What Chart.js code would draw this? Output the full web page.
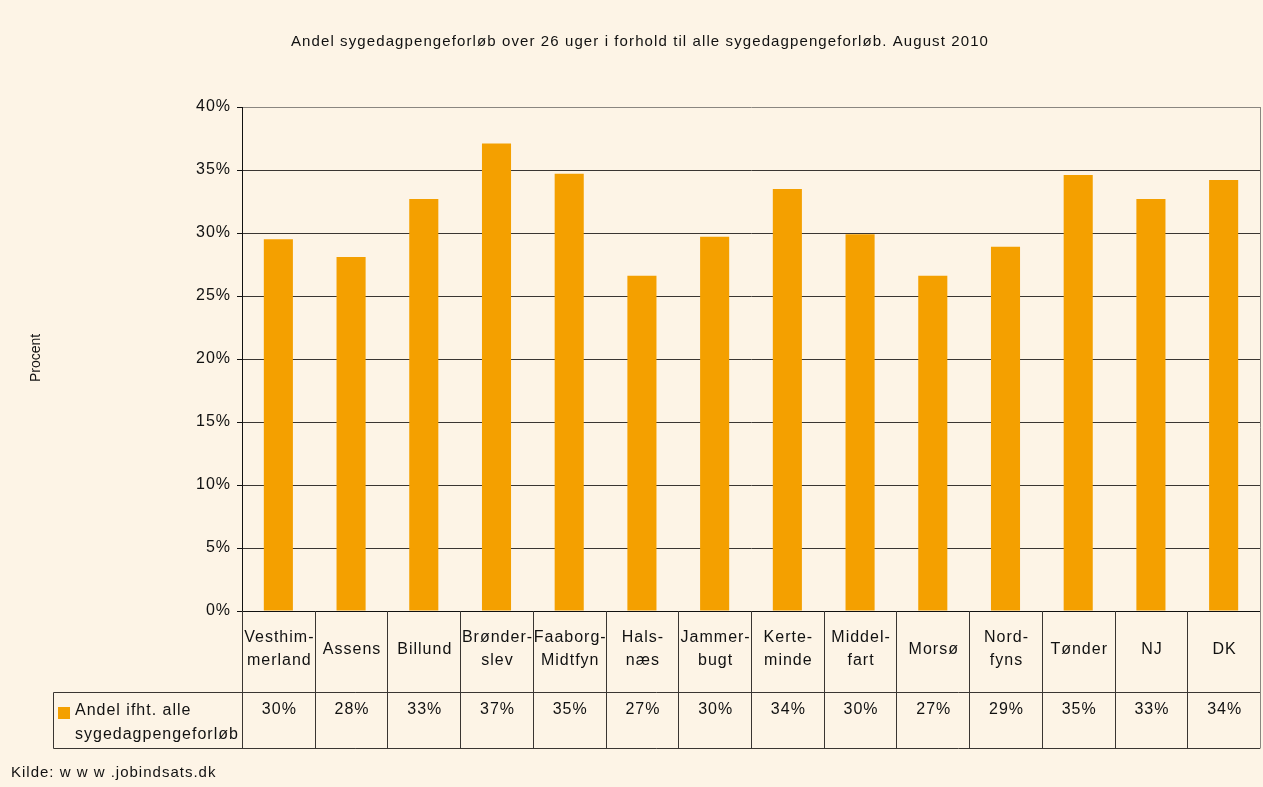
<!DOCTYPE html>
<html>
<head>
<meta charset="utf-8">
<script src="https://cdn.jsdelivr.net/npm/chart.js@4/dist/chart.umd.min.js"></script>
<style>
  html, body { margin: 0; padding: 0; background: #FDF4E6; }
  #wrap { width: 1263px; height: 787px; position: relative; }
</style>
</head>
<body>
<div id="wrap"><canvas id="chart" width="1263" height="787"></canvas></div>
<script>
// data
const categories = ['Vesthimmerland', 'Assens', 'Billund', 'Brønderslev', 'Faaborg-Midtfyn', 'Halsnæs', 'Jammerbugt',
  'Kerteminde', 'Middelfart', 'Morsø', 'Nordfyns', 'Tønder', 'NJ', 'DK'];
const tableLabels = [['Vesthim-', 'merland'], ['Assens'], ['Billund'], ['Brønder-', 'slev'], ['Faaborg-', 'Midtfyn'],
  ['Hals-', 'næs'], ['Jammer-', 'bugt'], ['Kerte-', 'minde'], ['Middel-', 'fart'], ['Morsø'], ['Nord-', 'fyns'],
  ['Tønder'], ['NJ'], ['DK']];
const shareValues = [29.5, 28.1, 32.7, 37.1, 34.7, 26.6, 29.7, 33.5, 29.9, 26.6, 28.9, 34.6, 32.7, 34.2];
const yTicks = [0, 5, 10, 15, 20, 25, 30, 35, 40];

const seriesName = 'Andel ifht. alle sygedagpengeforløb';
const titleText = 'Andel sygedagpengeforløb over 26 uger i forhold til alle sygedagpengeforløb. August 2010';
const sourceText = 'Kilde: w w w .jobindsats.dk';

const barColor = '#F4A000';
const textColor = '#111';
const fontFam = '"Liberation Sans", Arial, sans-serif';

// title, axis title, data table and source line
const decorPlugin = {
  id: 'decor',
  beforeDraw(chart) {
    const ctx = chart.ctx;
    ctx.save();
    ctx.fillStyle = '#FDF4E6';
    ctx.fillRect(0, 0, chart.width, chart.height);
    ctx.restore();
    ctx.letterSpacing = '1px';
  },
  afterDraw(chart) {
    const ctx = chart.ctx;
    const area = chart.chartArea;
    const xs = chart.scales.x;
    const colW = (area.right - area.left) / categories.length;
    const rowTop = area.bottom;
    const rowMid = 692.5;
    const rowBot = 748.5;

    ctx.save();
    ctx.fillStyle = textColor;

    // title
    ctx.letterSpacing = '1.1px';
    ctx.font = '15px ' + fontFam;
    ctx.textAlign = 'center';
    ctx.textBaseline = 'middle';
    ctx.fillText(titleText, 640, 42);

    // y axis title
    ctx.save();
    ctx.translate(36, 358);
    ctx.rotate(-Math.PI / 2);
    ctx.letterSpacing = '0px';
    ctx.font = '14px ' + fontFam;
    ctx.fillText('Procent', 0, 0);
    ctx.restore();

    // plot frame right side in grey
    ctx.strokeStyle = '#8a8680';
    ctx.lineWidth = 1;
    ctx.beginPath();
    ctx.moveTo(area.right + 0.5, area.top);
    ctx.lineTo(area.right + 0.5, rowBot);
    ctx.stroke();

    // table lines
    ctx.strokeStyle = '#3a3632';
    ctx.beginPath();
    for (let i = 0; i < categories.length; i++) {
      const x = Math.round(area.left + i * colW) + 0.5;
      ctx.moveTo(x, rowTop);
      ctx.lineTo(x, rowBot);
    }
    ctx.moveTo(53.5, rowMid);
    ctx.lineTo(area.right, rowMid);
    ctx.moveTo(53.5, rowBot);
    ctx.lineTo(area.right, rowBot);
    ctx.moveTo(53.5, rowMid);
    ctx.lineTo(53.5, rowBot);
    ctx.stroke();

    // category names and values
    ctx.letterSpacing = '1px';
    ctx.font = '16px ' + fontFam;
    ctx.textAlign = 'center';
    ctx.textBaseline = 'middle';
    categories.forEach(function (c, i) {
      const cx = xs.getPixelForValue(i) + 1;
      const lines = tableLabels[i];
      if (lines.length === 1) {
        ctx.fillText(lines[0], cx, 650);
      } else {
        ctx.fillText(lines[0], cx, 638);
        ctx.fillText(lines[1], cx, 661);
      }
      ctx.fillText(Math.round(shareValues[i]) + '%', cx, 710);
    });

    // legend key in table
    ctx.fillStyle = barColor;
    ctx.fillRect(58, 707, 12, 12);
    ctx.fillStyle = textColor;
    ctx.textAlign = 'left';
    ctx.fillText('Andel ifht. alle', 75, 711);
    ctx.fillText('sygedagpengeforløb', 75, 735);

    // source
    ctx.font = '15px ' + fontFam;
    ctx.letterSpacing = '1px';
    ctx.fillText(sourceText, 11, 773);
    ctx.restore();
  }
};

new Chart(document.getElementById('chart'), {
  type: 'bar',
  data: {
    labels: categories,
    datasets: [{
      label: seriesName,
      data: shareValues,
      backgroundColor: barColor,
      borderWidth: 0,
      categoryPercentage: 1,
      barPercentage: 0.4
    }]
  },
  options: {
    responsive: false,
    animation: false,
    layout: {
      padding: { left: 0, top: 107, right: 3, bottom: 176 }
    },
    plugins: {
      legend: { display: false },
      tooltip: { enabled: false },
      title: { display: false }
    },
    scales: {
      x: {
        ticks: { display: false },
        grid: { display: false, drawTicks: false },
        border: { display: true, color: '#111', width: 1 },
        afterFit: function (scale) { scale.height = 0; }
      },
      y: {
        min: 0,
        max: 40,
        afterFit: function (scale) { scale.width = 242; },
        afterBuildTicks: function (scale) {
          scale.ticks = yTicks.map(function (v) { return { value: v }; });
        },
        ticks: {
          color: textColor,
          padding: 6,
          font: { family: fontFam, size: 16 },
          callback: function (v) { return v + '%'; }
        },
        grid: {
          color: function (c) { return c.tick && c.tick.value === 40 ? '#8a8680' : '#3a3632'; },
          lineWidth: 1,
          tickLength: 5,
          tickColor: '#111'
        },
        border: { display: true, color: '#111', width: 1 }
      }
    }
  },
  plugins: [decorPlugin]
});
</script>
</body>
</html>
